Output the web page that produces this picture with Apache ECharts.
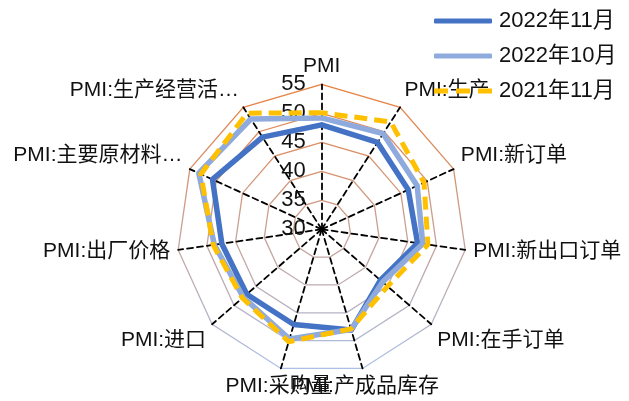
<!DOCTYPE html>
<html>
<head>
<meta charset="utf-8">
<script src="https://cdn.jsdelivr.net/npm/echarts@6/dist/echarts.min.js"></script>
<style>
  html, body { margin: 0; padding: 0; background: #fff; }
  #chart { width: 629px; height: 401px; }
</style>
</head>
<body>
<div id="chart"></div>
<script>
// Indicator names, listed clockwise starting from the top spoke
const indicatorNames = [
  'PMI', 'PMI:生产', 'PMI:新订单', 'PMI:新出口订单', 'PMI:在手订单',
  'PMI:产成品库存', 'PMI:采购量', 'PMI:进口', 'PMI:出厂价格',
  'PMI:主要原材料…', 'PMI:生产经营活…'
];
const seriesNames = ['2022年11月', '2022年10月', '2021年11月'];
const nov2022 = [48.0, 47.8, 46.4, 46.7, 43.4, 48.1, 47.1, 47.1, 47.4, 50.7, 48.9];
const oct2022 = [49.2, 49.6, 48.1, 47.6, 43.9, 48.0, 49.7, 47.9, 48.7, 53.3, 52.6];
const nov2021 = [50.1, 52.0, 49.4, 48.5, 45.0, 47.9, 50.2, 48.1, 48.9, 52.9, 53.8];
const tickLabels = [30, 35, 40, 45, 50, 55];

const FONT = '"Liberation Sans", Arial, "Noto Sans CJK SC", sans-serif';
const CX = 321.7, CY = 229.3, R = 145;
const N = indicatorNames.length;
const vMin = tickLabels[0];
const vMax = tickLabels[tickLabels.length - 1];

// ECharts places indicators counter-clockwise; reorder so the chart reads clockwise
const ccwOrder = indicatorNames.map((_, k) => (N - k) % N);
const toCcw = arr => ccwOrder.map(i => arr[i]);

const ringColor = new echarts.graphic.LinearGradient(0, 0, 0, 1, [
  { offset: 0, color: '#E97F3C' },
  { offset: 1, color: '#A9C0E8' }
]);

// Spoke captions placed just outside the outer ring
const nameLabels = indicatorNames.map((name, j) => {
  const a = j * 2 * Math.PI / N;
  const dx = Math.sin(a), dy = -Math.cos(a);
  const gap = 8;
  return {
    type: 'text',
    x: CX + (R + gap) * dx,
    y: CY + (R + gap) * dy,
    z: 1,
    silent: true,
    style: {
      text: name,
      fill: '#111',
      fontSize: 21,
      fontFamily: FONT,
      align: Math.abs(dx) < 0.35 ? 'center' : (dx > 0 ? 'left' : 'right'),
      verticalAlign: dy < -0.3 ? 'bottom' : (dy > 0.3 ? 'top' : 'middle')
    }
  };
});

const colors = ['#4472C4', '#8FAADC', '#FFC000'];
const values = [nov2022, oct2022, nov2021];

const chart = echarts.init(document.getElementById('chart'), null, { renderer: 'canvas' });
chart.setOption({
  backgroundColor: '#fff',
  animation: false,
  graphic: nameLabels,
  legend: {
    orient: 'vertical',
    left: 429,
    top: 5,
    itemWidth: 58,
    itemHeight: 5,
    itemGap: 13,
    selectedMode: false,
    textStyle: { fontSize: 22, fontFamily: FONT, color: '#111', lineHeight: 22, padding: [0, 0, 0, 2] },
    data: [
      { name: seriesNames[0], icon: 'roundRect' },
      { name: seriesNames[1], icon: 'roundRect' },
      { name: seriesNames[2], icon: 'path://M0,0H14V5H0Z M22,0H36V5H22Z M44,0H58V5H44Z' }
    ]
  },
  radar: [
    {
      center: [CX, CY],
      radius: R,
      startAngle: 90,
      splitNumber: tickLabels.length - 1,
      shape: 'polygon',
      indicator: indicatorNames.map((_, k) => ({ name: indicatorNames[ccwOrder[k]], min: vMin, max: vMax })),
      axisName: { show: false },
      axisLine: { lineStyle: { color: '#000', width: 1.8, type: [6, 4] } },
      axisTick: { show: false },
      axisLabel: { show: false },
      splitLine: { lineStyle: { color: ringColor, width: 1.3 } },
      splitArea: { show: false }
    },
    {
      // single vertical axis that carries the value labels
      center: [CX, CY],
      radius: R,
      startAngle: 90,
      splitNumber: tickLabels.length - 1,
      indicator: [{ name: '', min: vMin, max: vMax }],
      axisName: { show: false },
      axisLine: { show: false },
      axisTick: { show: false },
      splitLine: { show: false },
      splitArea: { show: false },
      axisLabel: { show: true, margin: 16, fontSize: 22, fontFamily: FONT, color: '#111' }
    }
  ],
  series: seriesNames.map((name, i) => ({
    type: 'radar',
    name: name,
    radarIndex: 0,
    symbol: 'none',
    z: 2 + i,
    itemStyle: { color: colors[i] },
    lineStyle: i === 2
      ? { color: colors[i], width: 5, type: [13, 7], cap: 'butt', join: 'round' }
      : { color: colors[i], width: 5.5, cap: 'round', join: 'round' },
    data: [{ name: name, value: toCcw(values[i]) }]
  }))
});
</script>
</body>
</html>
